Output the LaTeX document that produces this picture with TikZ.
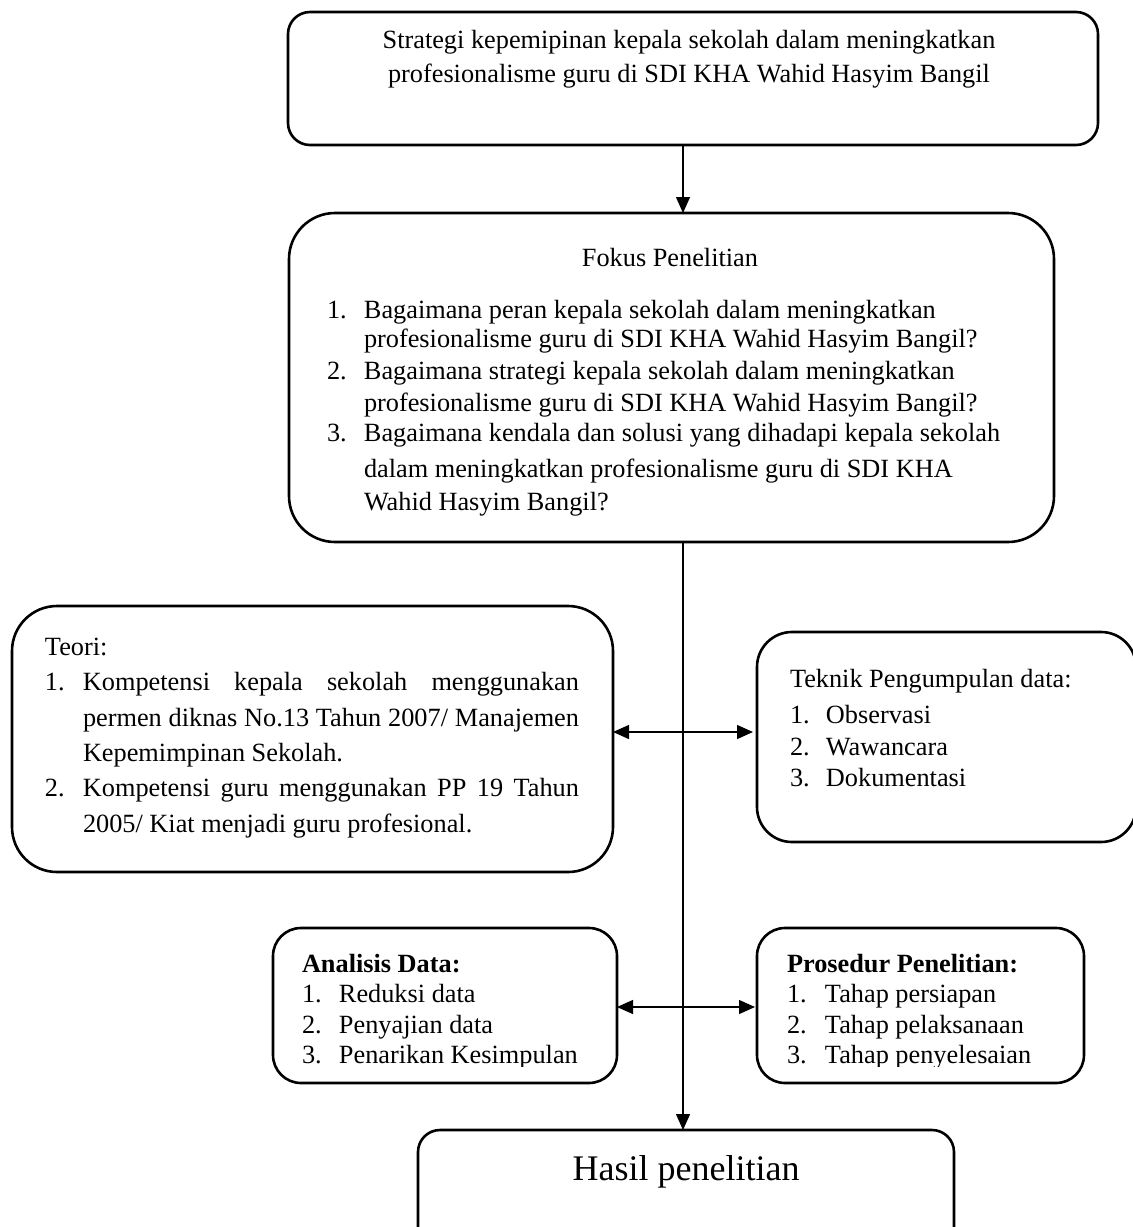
\documentclass[tikz,border=0pt]{standalone}
\usepackage{fontspec}
\setmainfont{Liberation Serif}
\usetikzlibrary{arrows.meta}
\begin{document}
\begin{tikzpicture}[x=1pt,y=-1pt,
  box/.style={draw, line width=2.6pt, inner sep=0pt, outer sep=0pt, anchor=north west},
  txt/.style={inner sep=0pt, outer sep=0pt, anchor=base west, font=\fontsize{26.3}{30}\selectfont},
  btxt/.style={txt, font=\fontsize{26.3}{30}\selectfont\bfseries},
  ctr/.style={txt, anchor=base},
  tip/.style={Triangle[length=16pt,width=14pt]},
  conn/.style={line width=1.3pt, -{Triangle[length=16pt,width=14pt]}},
  biconn/.style={line width=1.3pt, {Triangle[length=16pt,width=14pt]}-{Triangle[length=16pt,width=14pt]}}]
\useasboundingbox (0,0) rectangle (1133,1227);

% boxes
\node[box, rounded corners=22pt, minimum width=810pt, minimum height=133pt] (top) at (288,12) {};
\node[box, rounded corners=46pt, minimum width=765pt, minimum height=329pt] (fokus) at (289,213) {};
\node[box, rounded corners=45pt, minimum width=601pt, minimum height=266pt] (teori) at (12,606) {};
\node[box, rounded corners=35pt, minimum width=379pt, minimum height=210pt] (teknik) at (757,632) {};
\node[box, rounded corners=28pt, minimum width=344pt, minimum height=155pt] (analisis) at (273,928) {};
\node[box, rounded corners=28pt, minimum width=327pt, minimum height=155pt] (prosedur) at (757,928) {};
\node[box, rounded corners=22pt, minimum width=536pt, minimum height=130pt] (hasil) at (418,1130) {};

% top box text
\node[ctr] (top1) at (689,48) {Strategi kepemipinan kepala sekolah dalam meningkatkan};
\node[ctr] (top2) at (689,82) {profesionalisme guru di SDI KHA Wahid Hasyim Bangil};

% fokus text
\node[ctr] (fk0) at (670,266) {Fokus Penelitian};
\node[txt] (fk1) at (327,318) {\makebox[37pt][l]{1.}Bagaimana peran kepala sekolah dalam meningkatkan};
\node[txt] (fk2) at (364,347) {profesionalisme guru di SDI KHA Wahid Hasyim Bangil?};
\node[txt] (fk3) at (327,379) {\makebox[37pt][l]{2.}Bagaimana strategi kepala sekolah dalam meningkatkan};
\node[txt] (fk4) at (364,411) {profesionalisme guru di SDI KHA Wahid Hasyim Bangil?};
\node[txt] (fk5) at (327,441) {\makebox[37pt][l]{3.}Bagaimana kendala dan solusi yang dihadapi kepala sekolah};
\node[txt] (fk6) at (364,477) {dalam meningkatkan profesionalisme guru di SDI KHA};
\node[txt] (fk7) at (364,510) {Wahid Hasyim Bangil?};

% teori text
\node[txt] (te0) at (45,655) {Teori:};
\node[txt] (te1) at (45,690) {\makebox[38pt][l]{1.}\makebox[496pt][s]{Kompetensi kepala sekolah menggunakan}};
\node[txt] (te2) at (83,726) {\makebox[496pt][s]{permen diknas No.13 Tahun 2007/ Manajemen}};
\node[txt] (te3) at (83,761) {Kepemimpinan Sekolah.};
\node[txt] (te4) at (45,796) {\makebox[38pt][l]{2.}\makebox[496pt][s]{Kompetensi guru menggunakan PP 19 Tahun}};
\node[txt] (te5) at (83,832) {2005/ Kiat menjadi guru profesional.};

% teknik text
\node[txt] (tk0) at (790,687) {Teknik Pengumpulan data:};
\node[txt] (tk1) at (790,723) {\makebox[36pt][l]{1.}Observasi};
\node[txt] (tk2) at (790,755) {\makebox[36pt][l]{2.}Wawancara};
\node[txt] (tk3) at (790,786) {\makebox[36pt][l]{3.}Dokumentasi};

% analisis text
\node[btxt] (an0) at (302,972) {Analisis Data:};
\node[txt] (an1) at (302,1002) {\makebox[37pt][l]{1.}Reduksi data};
\node[txt] (an2) at (302,1033) {\makebox[37pt][l]{2.}Penyajian data};

% prosedur text
\node[btxt] (pr0) at (787,972) {Prosedur Penelitian:};
\node[txt] (pr1) at (787,1002) {\makebox[38pt][l]{1.}Tahap persiapan};
\node[txt] (pr2) at (787,1033) {\makebox[38pt][l]{2.}Tahap pelaksanaan};

\begin{scope}
\clip (0,0) rectangle (1133,1066);
\node[txt] (an3) at (302,1063) {\makebox[37pt][l]{3.}Penarikan Kesimpulan};
\node[txt] (pr3) at (787,1063) {\makebox[38pt][l]{3.}Tahap penyelesaian};
\end{scope}

% hasil text
\node[ctr, font=\fontsize{36}{40}\selectfont] (hs) at (686,1180) {Hasil penelitian};

% connectors
\coordinate (axis) at (683,0);
\coordinate (h1) at (0,732);
\coordinate (h2) at (0,1007);
\draw[conn] (top.south -| axis) -- (fokus.north -| axis);
\draw[conn] (fokus.south -| axis) -- (hasil.north -| axis);
\draw[biconn, shorten >=4pt] (teori.east |- h1) -- (teknik.west |- h1);
\draw[biconn, shorten >=2pt] (analisis.east |- h2) -- (prosedur.west |- h2);
\end{tikzpicture}
\end{document}
